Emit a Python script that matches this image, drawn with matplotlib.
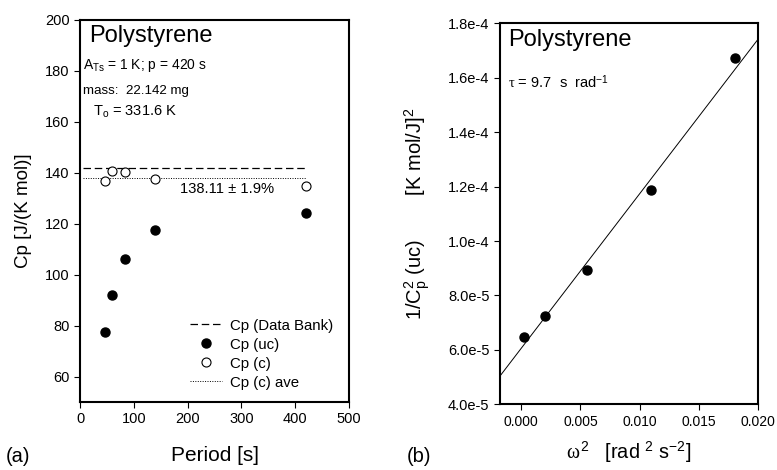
import numpy as np
import matplotlib
matplotlib.use("Agg")
import matplotlib.pyplot as plt
from matplotlib.ticker import FuncFormatter, MultipleLocator
from matplotlib.lines import Line2D

plt.rcParams["font.family"] = ["Liberation Sans", "DejaVu Sans"]
plt.rcParams["mathtext.fontset"] = "custom"
plt.rcParams["mathtext.rm"] = "Liberation Sans"
plt.rcParams["mathtext.it"] = "Liberation Serif"
plt.rcParams["mathtext.bf"] = "Liberation Sans:bold"

# (a) heat capacity vs period
period = [47, 60, 84, 140, 420]
cp_uc = [77.5, 92.0, 106.0, 117.7, 124.4]
cp_c = [136.8, 140.6, 140.4, 137.7, 134.8]
cp_bank = 142.0
cp_c_ave = 138.11
ref_line_x = [5, 420]

# (b) 1/Cp^2 vs omega^2
omega_sq = [0.00022, 0.00199, 0.00558, 0.0110, 0.01808]
inv_cp2 = [6.47e-5, 7.24e-5, 8.92e-5, 1.186e-4, 1.674e-4]
fit_intercept = 6.06e-5
fit_slope = 5.67e-3
fit_x = [-0.0018, 0.020]


def sci_fmt(v, pos):
    if v == 0:
        return "0"
    exp = int(np.floor(np.log10(abs(v)) + 1e-9))
    mant = v / 10 ** exp
    return f"{mant:.1f}e{exp}"


def style_axes(ax):
    for s in ax.spines.values():
        s.set_linewidth(1.5)
    ax.tick_params(direction="out", length=4, width=0.8, labelsize=10.5, top=False, right=False)


fig = plt.figure(figsize=(7.77, 4.70), dpi=100)

# ---- panel (a)
ax1 = fig.add_axes([0.103, 0.1447, 0.3462, 0.8128])
style_axes(ax1)
ax1.plot(ref_line_x, [cp_bank, cp_bank], color="black", lw=0.9, dashes=(6, 3))
ax1.plot(ref_line_x, [cp_c_ave, cp_c_ave], color="black", lw=0.7, dashes=(1, 1.5))
ax1.plot(period, cp_uc, "o", color="black", ms=6.5, ls="none")
ax1.plot(period, cp_c, "o", mfc="white", mec="black", mew=0.8, ms=6.5, ls="none")
ax1.set_xlim(0, 500)
ax1.set_ylim(50, 200)
ax1.xaxis.set_major_locator(MultipleLocator(100))
ax1.set_yticks(np.arange(60, 201, 20))
ax1.set_xlabel("Period [s]", fontsize=15, va="center")
ax1.set_ylabel("Cp [J/(K mol)]", fontsize=13.5)
ax1.xaxis.set_label_coords(0.5, -0.141)
ax1.yaxis.set_label_coords(-0.18, 0.5)

ax1.text(0.033, 0.958, "Polystyrene", transform=ax1.transAxes, fontsize=17, va="center", ha="left")
ax1.text(0.011, 0.882, r"A$_{\mathrm{Ts}}$ = 1 K; p = 420 s", transform=ax1.transAxes,
         fontsize=10, va="center", ha="left")
ax1.text(0.011, 0.814, "mass:  22.142 mg", transform=ax1.transAxes, fontsize=9.6, va="center", ha="left")
ax1.text(0.05, 0.759, r"T$_{\mathrm{o}}$ = 331.6 K", transform=ax1.transAxes,
         fontsize=10.5, va="center", ha="left")
ax1.text(186, 133.5, "138.11 ± 1.9%", fontsize=10.6, va="center", ha="left")

handles = [
    Line2D([], [], color="black", lw=0.9, dashes=(6, 3)),
    Line2D([], [], marker="o", color="black", ls="none", ms=6.5),
    Line2D([], [], marker="o", mfc="white", mec="black", mew=0.8, ls="none", ms=6.5),
    Line2D([], [], color="black", lw=0.7, dashes=(1, 1.5)),
]
labels = ["Cp (Data Bank)", "Cp (uc)", "Cp (c)", "Cp (c) ave"]
ax1.legend(handles, labels, loc="upper left", bbox_to_anchor=(0.409, 0.218), frameon=False,
           fontsize=10.8, handlelength=2.13, handletextpad=0.53, labelspacing=0.33,
           borderpad=0, borderaxespad=0)

# ---- panel (b)
ax2 = fig.add_axes([0.6435, 0.1398, 0.3317, 0.8106])
style_axes(ax2)
fit_y = [fit_intercept + fit_slope * x for x in fit_x]
ax2.plot(fit_x, fit_y, color="black", lw=0.7)
ax2.plot(omega_sq, inv_cp2, "o", color="black", ms=6.5, ls="none")
ax2.set_xlim(-0.0018, 0.020)
ax2.set_ylim(4e-5, 1.8e-4)
ax2.set_xticks(np.arange(0, 0.0201, 0.005))
ax2.xaxis.set_major_formatter(FuncFormatter(lambda v, p: f"{v:.3f}"))
ax2.set_yticks(np.arange(4e-5, 1.81e-4, 2e-5))
ax2.yaxis.set_major_formatter(FuncFormatter(sci_fmt))
ax2.tick_params(axis="x", labelsize=10)
ax2.set_xlabel(r"$\omega^2$   [rad $^2$ s$^{-2}$]", fontsize=14.3, va="center")
ax2.set_ylabel(r"1/C$^2_{\mathrm{p}}$ (uc)        [K mol/J]$^2$", fontsize=14.5)
ax2.xaxis.set_label_coords(0.5, -0.125)
ax2.yaxis.set_label_coords(-0.264, 0.5)

ax2.text(0.032, 0.956, "Polystyrene", transform=ax2.transAxes, fontsize=17, va="center", ha="left")
ax2.text(0.032, 0.847, r"$\tau$ = 9.7  s  rad$^{-1}$", transform=ax2.transAxes,
         fontsize=10.5, va="center", ha="left")

fig.text(0.008, 0.028, "(a)", fontsize=14.5, va="center", ha="left")
fig.text(0.523, 0.028, "(b)", fontsize=14.5, va="center", ha="left")

fig.savefig("out.png", dpi=100)
